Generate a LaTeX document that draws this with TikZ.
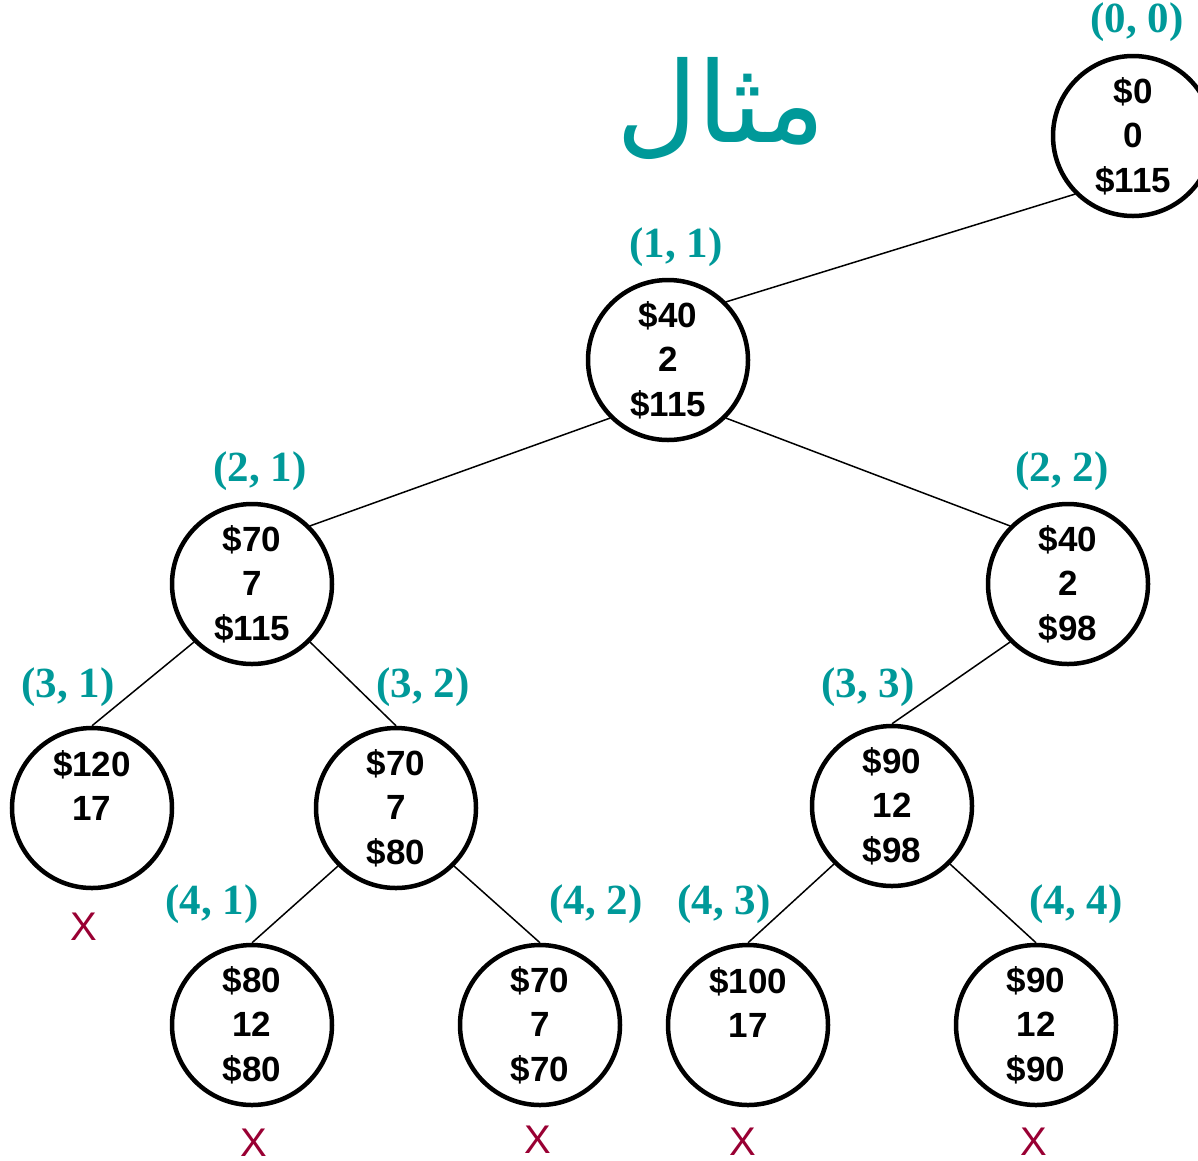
\documentclass[tikz,border=0pt]{standalone}
\usepackage{fontspec}
\setmainfont{Liberation Sans}
\newfontfamily\nodefont{Liberation Sans}
\newfontfamily\labfont{Liberation Serif}
\newfontfamily\arabicfont[Script=Arabic]{DejaVu Sans}
\TeXXeTstate=1
\definecolor{teal1}{RGB}{0,153,153}
\definecolor{xred}{RGB}{153,0,51}
\tikzset{
  tnode/.style={circle, draw=black, line width=4.5pt, minimum size=160pt, inner sep=0pt,
    align=center, font=\nodefont\fontsize{35}{44.5}\selectfont\bfseries},
  plab/.style={text=teal1, font=\labfont\fontsize{43}{43}\selectfont\bfseries, inner sep=0pt},
  xmark/.style={text=xred, font=\nodefont\fontsize{40}{40}\selectfont, inner sep=0pt},
  edge/.style={draw=black, line width=1.5pt}
}
\begin{document}
\begin{tikzpicture}[x=1pt,y=-1pt]
\useasboundingbox (0,0) rectangle (1198,1160);
\begin{scope}
\clip (0,0) rectangle (1198,1160);
\node[tnode] (r) at (1133,136) {\$0\\0\\\$115};
\end{scope}
\node[tnode] (n11) at (668,360) {\$40\\2\\\$115};
\node[tnode] (n21) at (252,584) {\$70\\7\\\$115};
\node[tnode] (n22) at (1068,584) {\$40\\2\\\$98};
\node[tnode] (n31) at (92,808) {\$120\\17\\\phantom{0}};
\node[tnode] (n32) at (396,808) {\$70\\7\\\$80};
\node[tnode] (n33) at (892,806) {\$90\\12\\\$98};
\node[tnode] (n41) at (252,1025) {\$80\\12\\\$80};
\node[tnode] (n42) at (540,1025) {\$70\\7\\\$70};
\node[tnode] (n43) at (748,1025) {\$100\\17\\\phantom{0}};
\node[tnode] (n44) at (1036,1025) {\$90\\12\\\$90};

\draw[edge] (r.south west) -- (n11.north east);
\draw[edge] (n11.south west) -- (n21.north east);
\draw[edge] (n11.south east) -- (n22.north west);
\draw[edge] (n21.south west) -- (n31.north);
\draw[edge] (n21.south east) -- (n32.north);
\draw[edge] (n22.south west) -- (n33.north);
\draw[edge] (n32.south west) -- (n41.north);
\draw[edge] (n32.south east) -- (n42.north);
\draw[edge] (n33.south west) -- (n43.north);
\draw[edge] (n33.south east) -- (n44.north);

\node[plab] (l00) at (1137,22) {(0, 0)};
\node[plab] (l11) at (676,247) {(1, 1)};
\node[plab] (l21) at (260,471) {(2, 1)};
\node[plab] (l22) at (1062,471) {(2, 2)};
\node[plab] (l31) at (68,687) {(3, 1)};
\node[plab] (l32) at (423,687) {(3, 2)};
\node[plab] (l33) at (868,687) {(3, 3)};
\node[plab] (l41) at (212,904) {(4, 1)};
\node[plab] (l42) at (596,904) {(4, 2)};
\node[plab] (l43) at (724,904) {(4, 3)};
\node[plab] (l44) at (1076,904) {(4, 4)};

\node[xmark] (x31) at (84,927) {X};
\node[xmark] (x41) at (254,1143) {X};
\node[xmark] (x42) at (538,1140) {X};
\node[xmark] (x43) at (743,1142) {X};
\node[xmark] (x44) at (1034,1142) {X};

\node[text=teal1, inner sep=0pt, font=\arabicfont\fontsize{112}{112}\selectfont] (title) at (721,108) {\beginR مثال\endR};
\end{tikzpicture}
\end{document}
